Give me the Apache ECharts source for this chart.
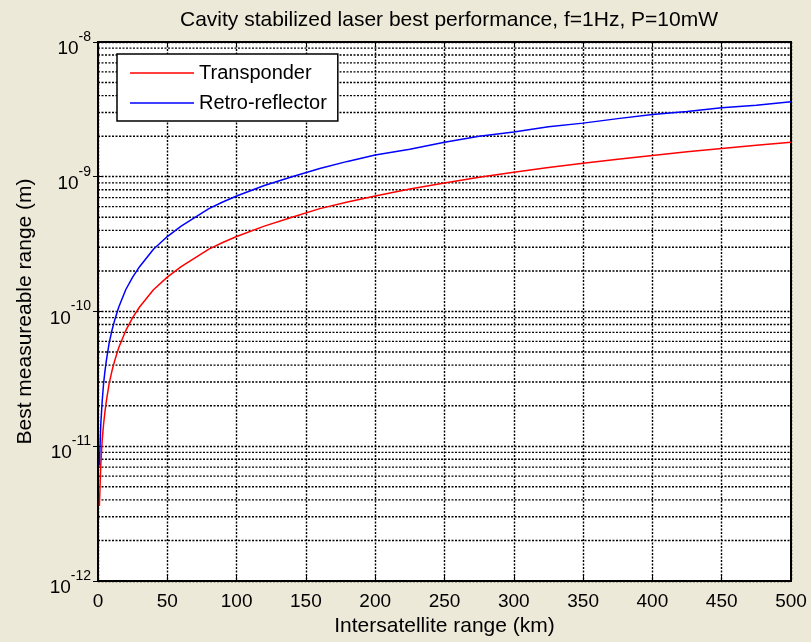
<!DOCTYPE html>
<html>
<head>
<meta charset="utf-8">
<script src="https://cdn.jsdelivr.net/npm/echarts@6/dist/echarts.min.js"></script>
<style>
  html, body { margin: 0; padding: 0; background: #ECE9D8; }
  #chart { width: 811px; height: 642px; }
</style>
</head>
<body>
<div id="chart"></div>
<script>
// values (km -> m)
const rangeKm = [1, 2, 3, 4, 5, 6, 8, 10, 12, 15, 20, 25, 30, 40, 50, 60, 70, 80, 90, 100,
  120, 140, 160, 180, 200, 225, 250, 275, 300, 325, 350, 375, 400, 425, 450, 475, 500];
const transponder = [3.6e-12, 7.2e-12, 1.1e-11, 1.45e-11, 1.8e-11, 2.15e-11, 2.9e-11, 3.6e-11,
  4.3e-11, 5.4e-11, 7.2e-11, 9.0e-11, 1.08e-10, 1.45e-10, 1.8e-10, 2.15e-10, 2.5e-10, 2.9e-10,
  3.25e-10, 3.6e-10, 4.3e-10, 5.0e-10, 5.8e-10, 6.5e-10, 7.2e-10, 8.1e-10, 9.0e-10, 9.9e-10,
  1.08e-9, 1.17e-9, 1.26e-9, 1.35e-9, 1.44e-9, 1.53e-9, 1.62e-9, 1.71e-9, 1.8e-9];
const retroReflector = [7.2e-12, 1.45e-11, 2.15e-11, 2.9e-11, 3.6e-11, 4.3e-11, 5.8e-11, 7.2e-11,
  8.6e-11, 1.08e-10, 1.45e-10, 1.8e-10, 2.15e-10, 2.9e-10, 3.6e-10, 4.3e-10, 5.0e-10, 5.8e-10,
  6.5e-10, 7.2e-10, 8.6e-10, 1.0e-9, 1.15e-9, 1.3e-9, 1.45e-9, 1.6e-9, 1.8e-9, 2.0e-9, 2.15e-9,
  2.35e-9, 2.5e-9, 2.7e-9, 2.9e-9, 3.05e-9, 3.25e-9, 3.4e-9, 3.6e-9];
const decades = [-12, -11, -10, -9];
const minorMult = [2, 3, 4, 5, 6, 7, 8, 9];
const xMin = 0, xMax = 500;

const font = 'Liberation Sans, Arial, Helvetica, sans-serif';
const gridLine = { color: '#000', type: [2, 1.5], width: 1.4 };

const chart = echarts.init(document.getElementById('chart'));

function pairs(ys) {
  return rangeKm.map((x, i) => [x, ys[i]]);
}

// minor log grid lines (2..9 x each decade), drawn as flat line series
const minorSeries = [];
decades.forEach(e => minorMult.forEach(m => {
  const v = m * Math.pow(10, e);
  minorSeries.push({
    type: 'line', symbol: 'none', silent: true, z: 1,
    lineStyle: gridLine,
    data: [[xMin, v], [xMax, v]]
  });
}));

chart.setOption({
  backgroundColor: '#ECE9D8',
  animation: false,
  title: {
    text: 'Cavity stabilized laser best performance, f=1Hz, P=10mW',
    left: 444, top: 5, textAlign: 'center',
    textStyle: { fontFamily: font, fontSize: 21, fontWeight: 'normal', color: '#000' }
  },
  legend: {
    orient: 'vertical',
    left: 117, top: 54,
    padding: [9, 11, 8, 13],
    itemGap: 10,
    icon: 'rect',
    itemWidth: 64, itemHeight: 1.5,
    backgroundColor: '#fff',
    borderColor: '#000', borderWidth: 1.5,
    textStyle: { fontFamily: font, fontSize: 20, color: '#000', lineHeight: 20 },
    data: ['Transponder', 'Retro-reflector']
  },
  grid: {
    left: 98, right: 20, top: 42, bottom: 57,
    show: true, backgroundColor: '#fff', borderColor: '#000', borderWidth: 2
  },
  xAxis: [{
    type: 'value', min: xMin, max: xMax, interval: 50,
    name: 'Intersatellite range (km)', nameLocation: 'middle', nameGap: 35,
    nameTextStyle: { fontFamily: font, fontSize: 21, color: '#000' },
    axisLine: { lineStyle: { color: '#000', width: 2 } },
    axisTick: { inside: true, length: 5, lineStyle: { color: '#000' } },
    axisLabel: { margin: 11, fontFamily: font, fontSize: 19, color: '#000' },
    splitLine: { show: true, lineStyle: gridLine }
  }, {
    type: 'value', position: 'top', min: xMin, max: xMax, interval: 50,
    axisLine: { show: false },
    axisTick: { inside: true, length: 5, lineStyle: { color: '#000' } },
    axisLabel: { show: false },
    splitLine: { show: false }
  }],
  yAxis: [{
    type: 'log', logBase: 10, min: 1e-12, max: 1e-8,
    name: 'Best measureable range (m)', nameLocation: 'middle', nameGap: 62,
    nameTextStyle: { fontFamily: font, fontSize: 21, color: '#000' },
    axisLine: { lineStyle: { color: '#000', width: 2 } },
    axisTick: { inside: true, length: 5, lineStyle: { color: '#000' } },
    axisLabel: {
      margin: 7,
      formatter: v => '{b|10}{s|' + Math.round(Math.log10(v)) + '}',
      rich: {
        b: { fontFamily: font, fontSize: 19, color: '#000', padding: [14, 0, 0, 0] },
        s: { fontFamily: font, fontSize: 14, color: '#000', padding: [0, 0, 10, 0] }
      }
    },
    splitLine: { show: true, lineStyle: gridLine }
  }, {
    type: 'log', logBase: 10, min: 1e-12, max: 1e-8, position: 'right',
    axisLine: { show: false },
    axisTick: { inside: true, length: 5, lineStyle: { color: '#000' } },
    axisLabel: { show: false },
    splitLine: { show: false }
  }],
  series: [{
    name: 'Transponder', type: 'line', symbol: 'none', z: 5,
    lineStyle: { color: '#ff0000', width: 1.5 }, itemStyle: { color: '#ff0000' },
    data: pairs(transponder)
  }, {
    name: 'Retro-reflector', type: 'line', symbol: 'none', z: 5,
    lineStyle: { color: '#0000ff', width: 1.5 }, itemStyle: { color: '#0000ff' },
    data: pairs(retroReflector)
  }].concat(minorSeries)
});
</script>
</body>
</html>
